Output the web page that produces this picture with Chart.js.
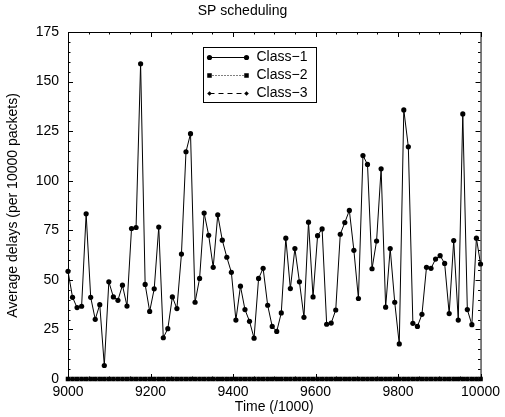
<!DOCTYPE html>
<html>
<head>
<meta charset="utf-8">
<script src="https://cdn.jsdelivr.net/npm/chart.js@4/dist/chart.umd.min.js"></script>
<style>
  html, body { margin: 0; padding: 0; background: #fff; }
  #wrap { width: 505px; height: 417px; }
</style>
</head>
<body>
<div id="wrap"><canvas id="chart" width="505" height="417"></canvas></div>
<script>
// --- data ---
const times = [
  9000, 9011, 9022, 9033, 9044, 9055, 9066, 9077, 9088, 9099,
  9110, 9121, 9132, 9143, 9154, 9165, 9176, 9187, 9198, 9209,
  9220, 9231, 9242, 9253, 9264, 9275, 9286, 9297, 9308, 9319,
  9330, 9341, 9352, 9363, 9374, 9385, 9396, 9407, 9418, 9429,
  9440, 9451, 9462, 9473, 9484, 9495, 9506, 9517, 9528, 9539,
  9550, 9561, 9572, 9583, 9594, 9605, 9616, 9627, 9638, 9649,
  9660, 9671, 9682, 9693, 9704, 9715, 9726, 9737, 9748, 9759,
  9770, 9781, 9792, 9803, 9814, 9825, 9836, 9847, 9858, 9869,
  9880, 9891, 9902, 9913, 9924, 9935, 9946, 9957, 9968, 9979,
  9990, 10000
];
const class1 = [
  54.3, 41.2, 36.0, 36.7, 83.3, 41.2, 30.1, 37.5, 6.8, 49.0,
  41.4, 39.7, 47.3, 36.8, 75.9, 76.4, 159, 47.7, 34.1, 45.5,
  76.6, 20.8, 25.4, 41.4, 35.5, 63.0, 114.6, 123.7, 38.7, 50.7,
  83.7, 72.5, 56.3, 82.8, 70.0, 61.4, 53.8, 29.7, 46.8, 35.0,
  29.1, 20.6, 50.7, 55.8, 37.2, 26.5, 24.0, 33.3, 71.0, 45.6,
  65.8, 49.0, 31.1, 79.1, 41.4, 72.3, 75.7, 27.6, 28.2, 34.8,
  73.0, 78.9, 85.0, 64.9, 40.6, 112.7, 108.2, 55.6, 69.6, 106.0,
  36.2, 65.8, 38.7, 17.7, 135.7, 117.1, 28.1, 26.5, 32.6, 56.3,
  55.8, 60.5, 62.2, 58.3, 33.0, 69.8, 29.7, 133.7, 35.0, 27.4,
  71.0, 58.0
];
const class2 = [
  0, 0, 0, 0, 0, 0, 0, 0, 0, 0, 0, 0, 0, 0, 0, 0, 0, 0, 0, 0,
  0, 0, 0, 0, 0, 0, 0, 0, 0, 0, 0, 0, 0, 0, 0, 0, 0, 0, 0, 0,
  0, 0, 0, 0, 0, 0, 0, 0, 0, 0, 0, 0, 0, 0, 0, 0, 0, 0, 0, 0,
  0, 0, 0, 0, 0, 0, 0, 0, 0, 0, 0, 0, 0, 0, 0, 0, 0, 0, 0, 0,
  0, 0, 0, 0, 0, 0, 0, 0, 0, 0, 0, 0
];
const class3 = [
  0, 0, 0, 0, 0, 0, 0, 0, 0, 0, 0, 0, 0, 0, 0, 0, 0, 0, 0, 0,
  0, 0, 0, 0, 0, 0, 0, 0, 0, 0, 0, 0, 0, 0, 0, 0, 0, 0, 0, 0,
  0, 0, 0, 0, 0, 0, 0, 0, 0, 0, 0, 0, 0, 0, 0, 0, 0, 0, 0, 0,
  0, 0, 0, 0, 0, 0, 0, 0, 0, 0, 0, 0, 0, 0, 0, 0, 0, 0, 0, 0,
  0, 0, 0, 0, 0, 0, 0, 0, 0, 0, 0, 0
];
const seriesNames = ['Class\u22121', 'Class\u22122', 'Class\u22123'];
const xTickLabels = [9000, 9200, 9400, 9600, 9800, 10000];
const yTickLabels = [0, 25, 50, 75, 100, 125, 150, 175];

const FONT = "'Liberation Sans', Arial, Helvetica, sans-serif";
Chart.defaults.font.family = FONT;
Chart.defaults.font.size = 14;
Chart.defaults.color = '#000';

const toPoints = vals => times.map((t, i) => ({ x: t, y: vals[i] }));

// marker shapes, shared by datasets and the hand drawn legend
const styles = [
  { pointStyle: 'circle', radius: 2.6, dash: [] },
  { pointStyle: 'rect', radius: 3.2, dash: [1, 2] },
  { pointStyle: 'rectRot', radius: 2.3, dash: [5, 4] }
];

function drawMarker(ctx, style, x, y) {
  ctx.beginPath();
  if (style.pointStyle === 'circle') {
    ctx.arc(x, y, style.radius, 0, Math.PI * 2);
  } else if (style.pointStyle === 'rect') {
    const s = style.radius * Math.SQRT1_2;
    ctx.rect(x - s, y - s, 2 * s, 2 * s);
  } else {
    const r = style.radius;
    ctx.moveTo(x, y - r); ctx.lineTo(x + r, y); ctx.lineTo(x, y + r); ctx.lineTo(x - r, y);
    ctx.closePath();
  }
  ctx.fill();
}

// frame with inward ticks on all four sides (gnuplot look)
const framePlugin = {
  id: 'frame',
  beforeDatasetsDraw(chart) {
    const { ctx, chartArea: a, scales: { x, y } } = chart;
    ctx.save();
    ctx.strokeStyle = '#000';
    ctx.lineWidth = 1;
    ctx.setLineDash([]);
    ctx.strokeRect(a.left + 0.5, a.top + 0.5, a.right - a.left, a.bottom - a.top);
    ctx.beginPath();
    for (let v = y.min; v <= y.max; v += 5) {
      const len = v % 25 === 0 ? 5 : 2.5;
      const py = Math.round(y.getPixelForValue(v)) + 0.5;
      ctx.moveTo(a.left, py); ctx.lineTo(a.left + len, py);
      ctx.moveTo(a.right, py); ctx.lineTo(a.right - len, py);
    }
    for (let v = x.min; v <= x.max; v += 50) {
      const len = v % 200 === 0 ? 5 : 2.5;
      const px = Math.round(x.getPixelForValue(v)) + 0.5;
      ctx.moveTo(px, a.bottom); ctx.lineTo(px, a.bottom - len);
      ctx.moveTo(px, a.top); ctx.lineTo(px, a.top + len);
    }
    ctx.stroke();
    ctx.restore();
  }
};

const legendPlugin = {
  id: 'boxLegend',
  afterDraw(chart) {
    const { ctx, chartArea: a } = chart;
    const left = a.left + 135.5, top = a.top + 15.5;
    ctx.save();
    ctx.strokeStyle = '#000';
    ctx.fillStyle = '#000';
    ctx.lineWidth = 1;
    ctx.setLineDash([]);
    ctx.strokeRect(left, top, 113, 55);
    ctx.font = '14px ' + FONT;
    ctx.textBaseline = 'middle';
    ctx.textAlign = 'left';
    seriesNames.forEach((name, i) => {
      const yy = Math.round(top + 9 + i * 18) + 0.5;
      const x0 = left + 6, x1 = left + 43;
      ctx.setLineDash(styles[i].dash);
      ctx.beginPath(); ctx.moveTo(x0, yy); ctx.lineTo(x1, yy); ctx.stroke();
      ctx.setLineDash([]);
      drawMarker(ctx, styles[i], x0, yy);
      drawMarker(ctx, styles[i], x1, yy);
      ctx.fillText(name, left + 53, yy);
    });
    ctx.restore();
  }
};

const datasets = [class1, class2, class3].map((vals, i) => ({
  label: seriesNames[i],
  data: toPoints(vals),
  borderColor: '#000',
  backgroundColor: '#000',
  borderWidth: 1,
  borderDash: styles[i].dash,
  pointStyle: styles[i].pointStyle,
  pointRadius: styles[i].radius,
  pointBorderWidth: 0,
  pointBackgroundColor: '#000',
  tension: 0,
  clip: false,
  order: 3 - i
}));

new Chart(document.getElementById('chart'), {
  type: 'line',
  data: { datasets },
  options: {
    responsive: false,
    animation: false,
    events: [],
    layout: { padding: { left: 0, right: 20, top: 0, bottom: 0 } },
    plugins: {
      legend: { display: false },
      tooltip: { enabled: false },
      title: {
        display: true,
        text: 'SP scheduling',
        font: { size: 14, weight: 'normal' },
        color: '#000',
        padding: { top: 3, bottom: 12.2 }
      }
    },
    scales: {
      x: {
        type: 'linear',
        min: xTickLabels[0],
        max: xTickLabels[xTickLabels.length - 1],
        afterFit: s => { s.height = 38; },
        afterBuildTicks: s => { s.ticks = xTickLabels.map(v => ({ value: v })); },
        grid: { display: false, drawTicks: false },
        border: { display: false },
        ticks: { padding: 5, maxRotation: 0, autoSkip: false, callback: v => String(v) },
        title: { display: true, text: 'Time (/1000)', padding: { top: 0, bottom: 1 } }
      },
      y: {
        min: yTickLabels[0],
        max: yTickLabels[yTickLabels.length - 1],
        afterFit: s => { s.width = 68; },
        afterBuildTicks: s => { s.ticks = yTickLabels.map(v => ({ value: v })); },
        grid: { display: false, drawTicks: false },
        border: { display: false },
        ticks: { padding: 9, autoSkip: false, callback: v => String(v) },
        title: { display: true, text: 'Average delays (per 10000 packets)', padding: { top: 5, bottom: 0 } }
      }
    }
  },
  plugins: [framePlugin, legendPlugin]
});
</script>
</body>
</html>
